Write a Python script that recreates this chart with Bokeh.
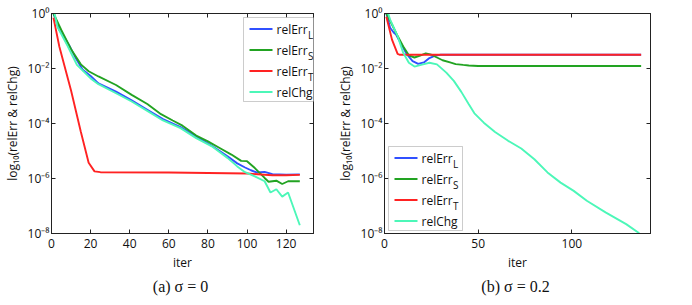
import numpy as np
from bokeh.plotting import figure
from bokeh.models import (Range1d, FixedTicker, LinearAxis, LogAxis, CustomJSTickFormatter,
                          BoxAnnotation, Label, Title)
from bokeh.layouts import row
from bokeh.embed import file_html
from bokeh.resources import INLINE

# ---------------- data (y stored as log10 of the value) ----------------
legend_names = ["relErr", "relErr", "relErr", "relChg"]
legend_subs = ["L", "S", "T", ""]

# (a) sigma = 0
a_L_iter = [1, 4, 6, 9, 12, 16, 20, 24, 33, 41, 49, 57, 66, 74, 82, 90, 95, 99, 102, 105, 109, 113, 120, 127]
a_L_log = [0.0, -0.6, -0.79, -1.15, -1.57, -2.05, -2.27, -2.54, -2.84, -3.16, -3.5, -3.84, -4.13, -4.47,
           -4.81, -5.19, -5.45, -5.6, -5.7, -5.78, -5.76, -5.84, -5.86, -5.85]
a_S_iter = [1, 3, 5, 10, 15, 19, 24, 33, 41, 49, 56, 62, 67, 74, 80, 86, 92, 97, 100, 104, 109, 111,
            115, 118, 121, 124, 127]
a_S_log = [0.0, -0.3, -0.6, -1.3, -1.85, -2.1, -2.29, -2.6, -2.96, -3.29, -3.66, -3.89, -4.08, -4.44,
           -4.65, -4.89, -5.13, -5.36, -5.37, -5.62, -5.98, -6.12, -6.08, -6.2, -6.1, -6.1, -6.1]
a_T_iter = [1, 4, 10, 15, 19, 22, 25, 60, 100, 113, 120, 127]
a_T_log = [-0.15, -1.2, -2.8, -4.3, -5.43, -5.74, -5.77, -5.78, -5.82, -5.88, -5.88, -5.87]
a_C_iter = [1, 3, 8, 13, 20, 24, 33, 41, 49, 57, 66, 74, 82, 90, 95, 99, 104, 109, 112, 115, 118, 121, 127]
a_C_log = [0.2, -0.48, -1.15, -1.87, -2.36, -2.57, -2.9, -3.2, -3.54, -3.89, -4.17, -4.53, -4.83, -5.25,
           -5.56, -5.77, -5.92, -6.1, -6.51, -6.39, -6.66, -6.51, -7.7]

# (b) sigma = 0.2
b_L_iter = [1, 3, 5, 6, 9, 12, 15, 18, 21, 24, 27, 30, 137]
b_L_log = [0.0, -0.52, -0.7, -0.75, -1.12, -1.49, -1.73, -1.83, -1.78, -1.62, -1.53, -1.5, -1.5]
b_S_iter = [1, 4, 7, 10, 13, 16, 19, 22, 25, 28, 31, 35, 38, 42, 45, 50, 55, 137]
b_S_log = [0.0, -0.4, -0.82, -1.2, -1.52, -1.6, -1.53, -1.45, -1.5, -1.6, -1.7, -1.78, -1.84, -1.87,
           -1.89, -1.91, -1.91, -1.91]
b_T_iter = [1, 4, 7, 8, 137]
b_T_log = [-0.12, -0.95, -1.47, -1.5, -1.5]
b_C_iter = [1, 3, 7, 10, 13, 16, 20, 24, 28, 33, 37, 41, 45, 48, 53, 59, 66, 73, 80, 87, 94, 101, 108,
            118, 129, 136]
b_C_log = [0.2, -0.22, -0.82, -1.43, -1.79, -1.93, -1.86, -1.79, -1.85, -2.15, -2.45, -2.85, -3.3, -3.63,
           -3.97, -4.31, -4.63, -4.91, -5.3, -5.78, -6.15, -6.45, -6.81, -7.23, -7.66, -7.99]

x_ticks_a = [0, 20, 40, 60, 80, 100, 120]
x_ticks_b = [0, 50, 100]
y_ticks = [1.0, 1e-2, 1e-4, 1e-6, 1e-8]
x_lim_a = [0, 134]
x_lim_b = [0, 142]
y_lim = [1e-8, 1.0]
captions = ["(a)  \u03c3 = 0", "(b)  \u03c3 = 0.2"]
x_label = "iter"
y_label = "log\u2081\u2080(relErr & relChg)"

# ---------------- styles ----------------
COLORS = ["#3050ff", "#22a322", "#ff2222", "#4cf7b8"]
SANS = "Open Sans"
SERIF = "Liberation Serif"
INK = "#111111"

SUP_JS = """
const sup = {"0":"\u2070","1":"\u00b9","2":"\u00b2","3":"\u00b3","4":"\u2074","5":"\u2075",
             "6":"\u2076","7":"\u2077","8":"\u2078","9":"\u2079","-":"\u207b"};
const e = Math.round(Math.log10(tick));
return "10" + String(e).split("").map(c => sup[c]).join("");
"""

FIG_H, MB_TOP, MB_BOTTOM = 297, 13, 64
FRAME_H = FIG_H - MB_TOP - MB_BOTTOM
LEG_W, LEG_H = 74, 84
LEG_FIRST, LEG_PITCH = 11.5, 21
LEG_LINE_X0, LEG_LINE_X1 = 6, 29
LEG_TEXT_X, LEG_SUB_X, LEG_SUB_DY = 33, 64.5, 6


def style_axis(ax, size="12px"):
    ax.major_tick_in = 4
    ax.major_tick_out = 0
    ax.minor_tick_line_color = None
    ax.axis_line_color = "#222222"
    ax.major_tick_line_color = "#222222"
    ax.major_label_text_font = SANS
    ax.major_label_text_font_size = size
    ax.major_label_text_color = INK
    ax.axis_label_text_font = SANS
    ax.axis_label_text_font_size = "12px"
    ax.axis_label_text_font_style = "normal"
    ax.axis_label_text_color = INK


def add_legend(p, box_left, box_top):
    """Legend drawn in screen units (relative to the frame, y upward)."""
    p.add_layout(BoxAnnotation(left=box_left, right=box_left + LEG_W, top=box_top, bottom=box_top - LEG_H,
                               left_units="screen", right_units="screen", top_units="screen",
                               bottom_units="screen", fill_color="white", fill_alpha=1.0,
                               line_color="#555555", line_width=1, level="overlay"))
    for k, (name, sub, col) in enumerate(zip(legend_names, legend_subs, COLORS)):
        cy = box_top - LEG_FIRST - k * LEG_PITCH
        p.add_layout(BoxAnnotation(left=box_left + LEG_LINE_X0, right=box_left + LEG_LINE_X1,
                                   top=cy + 0.9, bottom=cy - 0.9,
                                   left_units="screen", right_units="screen", top_units="screen",
                                   bottom_units="screen", fill_color=col, fill_alpha=1.0,
                                   line_color=None, level="overlay"))
        p.add_layout(Label(x=box_left + LEG_TEXT_X, y=cy, x_units="screen", y_units="screen", text=name,
                           text_font=SANS, text_font_size="12px", text_color=INK,
                           text_baseline="middle", text_align="left", level="overlay"))
        if sub:
            p.add_layout(Label(x=box_left + LEG_SUB_X, y=cy - LEG_SUB_DY, x_units="screen",
                               y_units="screen", text=sub, text_font=SANS, text_font_size="10px",
                               text_color=INK, text_baseline="middle", text_align="left",
                               level="overlay"))


def panel(series, xt, xlim, caption, width, mb_left, mb_right, legend_loc):
    p = figure(width=width, height=FIG_H, x_range=Range1d(*xlim), y_range=Range1d(*y_lim),
               y_axis_type="log", output_backend="svg", toolbar_location=None,
               min_border_left=mb_left, min_border_right=mb_right, min_border_top=MB_TOP,
               min_border_bottom=MB_BOTTOM)
    p.xgrid.visible = False
    p.ygrid.visible = False
    p.outline_line_color = "#222222"
    p.background_fill_color = "white"
    p.border_fill_color = "white"

    xa = p.xaxis[0]
    xa.ticker = FixedTicker(ticks=xt)
    style_axis(xa)
    xa.major_label_standoff = 5
    xa.axis_label = x_label
    xa.axis_label_standoff = 3

    ya = p.yaxis[0]
    ya.ticker = FixedTicker(ticks=y_ticks)
    ya.formatter = CustomJSTickFormatter(code=SUP_JS)
    style_axis(ya)
    ya.major_label_standoff = 2
    ya.axis_label = y_label
    ya.axis_label_standoff = 4

    top = LinearAxis(ticker=FixedTicker(ticks=xt), formatter=CustomJSTickFormatter(code="return ''"))
    style_axis(top, "0px")
    top.major_label_standoff = 0
    p.add_layout(top, "above")
    right = LogAxis(ticker=FixedTicker(ticks=y_ticks), formatter=CustomJSTickFormatter(code="return ''"))
    style_axis(right, "0px")
    right.major_label_standoff = 0
    p.add_layout(right, "right")

    for (it, lg), col in zip(series, COLORS):
        p.line(it, 10.0 ** np.array(lg), line_color=col, line_width=1.9)

    frame_w = width - mb_left - mb_right
    if legend_loc == "top_right":
        add_legend(p, frame_w - 4 - LEG_W, FRAME_H - 4)
    else:
        add_legend(p, 4, 3 + LEG_H)

    p.add_layout(Title(text=caption, align="center", text_font=SERIF, text_font_size="16px",
                       text_font_style="normal", text_color=INK, standoff=5), "below")
    return p


p1 = panel([(a_L_iter, a_L_log), (a_S_iter, a_S_log), (a_T_iter, a_T_log), (a_C_iter, a_C_log)],
           x_ticks_a, x_lim_a, captions[0], 333, 43, 20, "top_right")
p2 = panel([(b_L_iter, b_L_log), (b_S_iter, b_S_log), (b_T_iter, b_T_log), (b_C_iter, b_C_log)],
           x_ticks_b, x_lim_b, captions[1], 343, 46, 26, "bottom_left")

layout = row(p1, p2)
open("out.html", "w").write(file_html(layout, INLINE))
